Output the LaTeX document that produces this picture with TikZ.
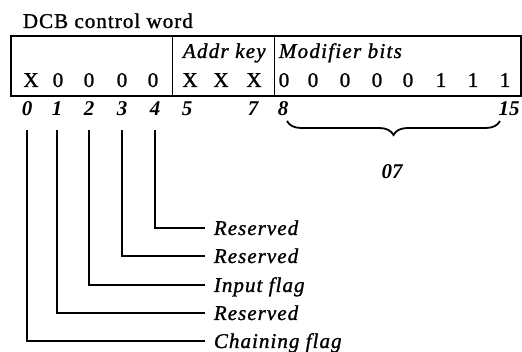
\documentclass[tikz,border=0pt]{standalone}
\usepackage{fontspec}
\setmainfont{Liberation Serif}
\usetikzlibrary{decorations.pathreplacing}
\begin{document}
\begin{tikzpicture}[x=1pt,y=-1pt,line width=1.8pt,
  every node/.style={inner sep=0pt,font=\fontsize{21}{25}\selectfont\addfontfeature{FakeBold=1.2}},
  ttl/.style={anchor=base west,font=\fontsize{21}{25}\selectfont\addfontfeature{LetterSpace=5,FakeBold=1.2}},
  bitval/.style={anchor=base},
  hdr/.style={anchor=base west,font=\fontsize{21}{25}\selectfont\itshape\addfontfeature{LetterSpace=6,FakeBold=1.2}},
  idx/.style={anchor=base,font=\fontsize{21}{25}\selectfont\bfseries\itshape},
  lab/.style={anchor=west,text height=14pt,text depth=0pt,font=\fontsize{21}{25}\selectfont\itshape\addfontfeature{LetterSpace=5,FakeBold=1.2}},
  conn/.style={line width=2pt},
  boxline/.style={line width=1.8pt}]
\useasboundingbox (0,0) rectangle (522,352);
% title
\node[ttl] (title) at (22,28) {DCB control word};
% box
\draw[boxline] (11,36) rectangle (521,96);
\draw[boxline] (172.5,36) -- (172.5,96);
\draw[boxline] (274.5,36) -- (274.5,96);
% headers
\node[hdr] (addr) at (182,58) {Addr key};
\node[hdr] (mod) at (278,58) {Modifier bits};
% bit values
\node[bitval] (v0) at (31,87) {X};
\node[bitval] (v1) at (58,87) {0};
\node[bitval] (v2) at (89,87) {0};
\node[bitval] (v3) at (122,87) {0};
\node[bitval] (v4) at (153,87) {0};
\node[bitval] (v5) at (190,87) {X};
\node[bitval] (v6) at (221,87) {X};
\node[bitval] (v7) at (254,87) {X};
\node[bitval] (v8) at (284,87) {0};
\node[bitval] (v9) at (313,87) {0};
\node[bitval] (v10) at (345,87) {0};
\node[bitval] (v11) at (377,87) {0};
\node[bitval] (v12) at (408,87) {0};
\node[bitval] (v13) at (441,87) {1};
\node[bitval] (v14) at (473,87) {1};
\node[bitval] (v15) at (505,87) {1};
% bit indices
\node[idx] (n0) at (27,116) {0};
\node[idx] (n1) at (57,116) {1};
\node[idx] (n2) at (89,116) {2};
\node[idx] (n3) at (122,116) {3};
\node[idx] (n4) at (155,116) {4};
\node[idx] (n5) at (187,116) {5};
\node[idx] (n7) at (253,116) {7};
\node[idx] (n8) at (283,116) {8};
\node[idx] (n15) at (509,116) {15};
% brace
\draw[line width=1.8pt,decorate,decoration={brace,mirror,amplitude=14pt}] (287,121) -- (500,121);
\node[idx,anchor=center] (hex) at (392,172) {07};
% labels
\node[lab] (l4) at (213,228) {Reserved};
\node[lab] (l3) at (213,256) {Reserved};
\node[lab] (l2) at (213,285) {Input flag};
\node[lab] (l1) at (213,313) {Reserved};
\node[lab] (l0) at (213,341) {Chaining flag};
% connectors
\foreach \i in {0,1,2,3,4}
  \draw[conn] ([yshift=-13pt]n\i.south) |- ([xshift=-8pt]l\i.west);
\end{tikzpicture}
\end{document}
